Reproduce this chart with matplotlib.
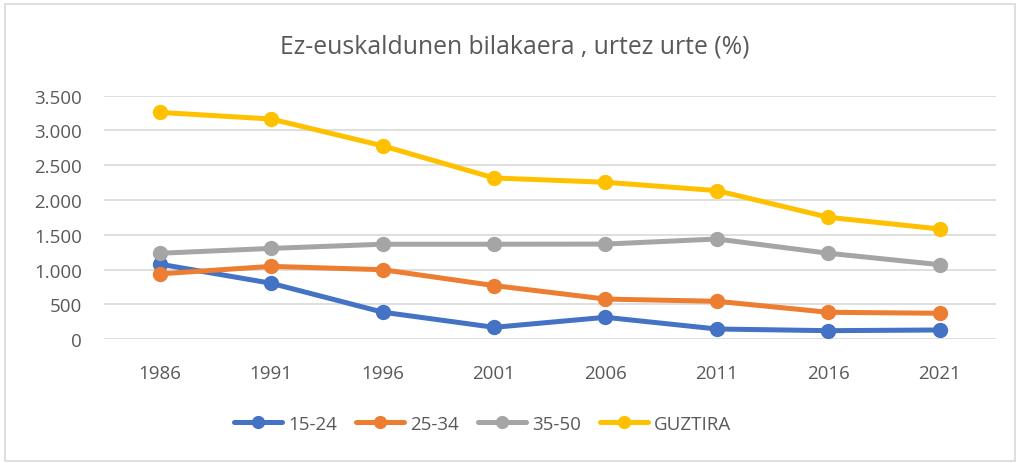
import matplotlib.pyplot as plt
from matplotlib.patches import Rectangle
from matplotlib.ticker import FuncFormatter

years = ['1986', '1991', '1996', '2001', '2006', '2011', '2016', '2021']
g15_24 = [1080, 805, 390, 172, 316, 148, 124, 134]
g25_34 = [940, 1048, 1000, 772, 578, 546, 388, 374]
g35_50 = [1236, 1306, 1366, 1366, 1368, 1441, 1236, 1072]
guztira = [3260, 3165, 2780, 2318, 2256, 2136, 1753, 1585]

series = [('15-24', g15_24, '#4472C4'),
          ('25-34', g25_34, '#ED7D31'),
          ('35-50', g35_50, '#A5A5A5'),
          ('GUZTIRA', guztira, '#FFC000')]

plt.rcParams['font.family'] = ['Open Sans', 'DejaVu Sans']
txt = '#595959'

fig = plt.figure(figsize=(10.2, 4.64), dpi=100)
ax = fig.add_axes([0.102, 0.2666, 0.874, 0.525])

x = range(len(years))
for name, vals, col in series:
    ax.plot(x, vals, color=col, linewidth=3.6, marker='o', markersize=10,
            label=name, solid_capstyle='round')

ax.set_xlim(-0.5, len(years) - 0.5)
ax.set_ylim(0, 3500)
ax.set_yticks(range(0, 3501, 500))
ax.yaxis.set_major_formatter(FuncFormatter(lambda v, p: f'{int(v):,}'.replace(',', '.')))
ax.set_xticks(list(x))
ax.set_xticklabels(years)
ax.tick_params(length=0, labelsize=13.5, labelcolor=txt)
ax.tick_params(axis='x', pad=18)
ax.tick_params(axis='y', pad=16)
ax.grid(axis='y', color='#D9D9D9', linewidth=1.2)
ax.set_axisbelow(True)
for s in ax.spines.values():
    s.set_visible(False)

fig.text(0.505, 0.899, 'Ez-euskaldunen bilakaera , urtez urte (%)', ha='center', va='center',
         fontsize=17.8, color=txt)

fig.legend(loc='center', bbox_to_anchor=(0.473, 0.084), ncol=4, frameon=False,
           fontsize=13.5, labelcolor=txt, handlelength=2.6, columnspacing=1.0,
           handletextpad=0.3, markerscale=0.85)

fig.patches.append(Rectangle((0.005, 0.005), 0.99, 0.985, transform=fig.transFigure,
                             fill=False, edgecolor='#D9D9D9', linewidth=1.2))

fig.savefig('out.png', dpi=100, facecolor='white')
